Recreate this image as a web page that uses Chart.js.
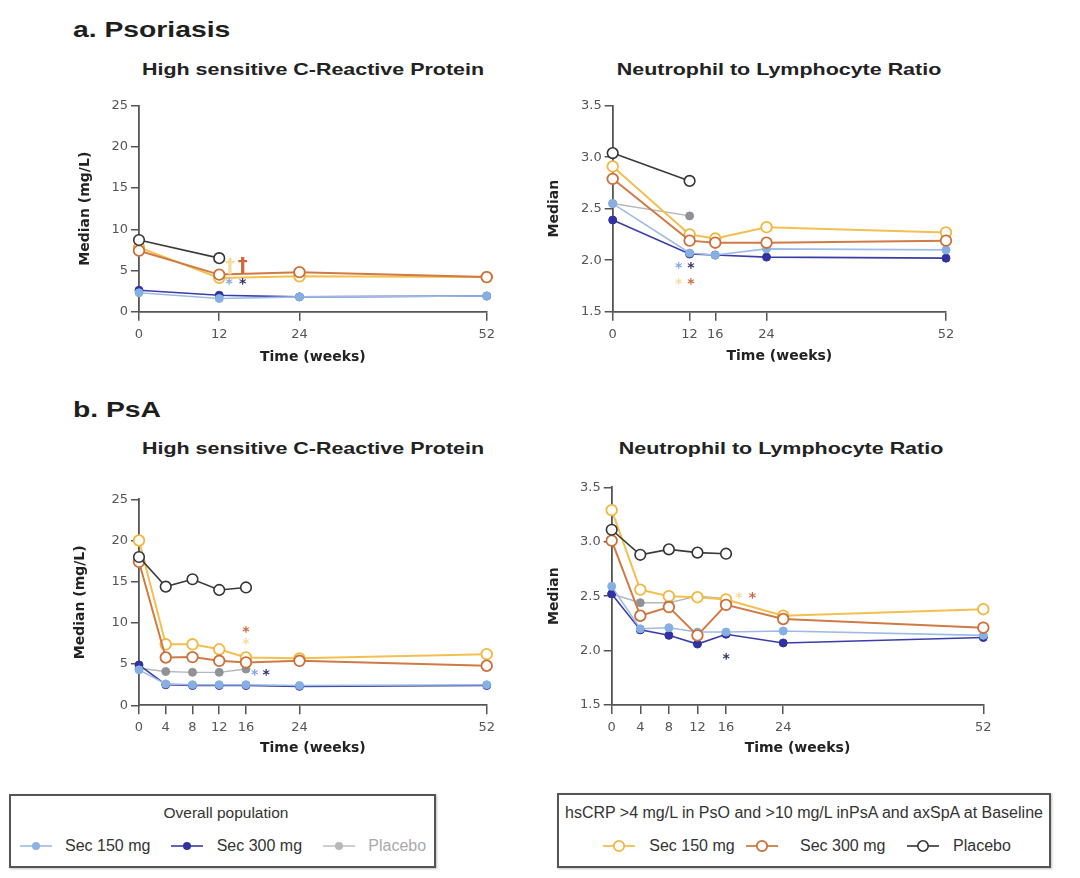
<!DOCTYPE html>
<html><head><meta charset="utf-8">
<script src="https://cdn.jsdelivr.net/npm/chart.js@4.4.1/dist/chart.umd.min.js"></script>
<style>
html,body{margin:0;padding:0;background:#fff;}
body{width:1080px;height:878px;position:relative;overflow:hidden;font-family:"Liberation Sans",Arial,sans-serif;}
.abs{position:absolute;white-space:nowrap;}
.h1{font-weight:bold;font-size:22px;line-height:22px;color:#1e1e1e;transform:scaleX(1.286);transform-origin:left center;}
.h2{font-weight:bold;font-size:16.5px;line-height:16.5px;color:#222;text-align:center;width:400px;transform:scaleX(1.3);transform-origin:center center;}
canvas{position:absolute;}
.lbox{position:absolute;border:2px solid #555;box-sizing:border-box;box-shadow:1px 1px 2px rgba(0,0,0,.25);}
.lt{position:absolute;white-space:nowrap;font-size:16px;line-height:16px;color:#333;}
svg.ic{position:absolute;width:32px;height:14px;overflow:visible;}
</style>
</head><body>

<div class="abs h1" style="left:72.7px;top:18.7px;">a. Psoriasis</div>
<div class="abs h1" style="left:73.3px;top:398.7px;">b. PsA</div>
<div class="abs h2" style="left:112.5px;top:61px;">High sensitive C-Reactive Protein</div>
<div class="abs h2" style="left:578.5px;top:61px;">Neutrophil to Lymphocyte Ratio</div>
<div class="abs h2" style="left:112.5px;top:440.3px;">High sensitive C-Reactive Protein</div>
<div class="abs h2" style="left:581px;top:440.3px;">Neutrophil to Lymphocyte Ratio</div>

<div class="lbox" style="left:9.3px;top:794.3px;width:426.4px;height:73.4px;"></div>
<div class="lt" style="left:0;width:452px;text-align:center;top:805px;font-size:15.5px;">Overall population</div>
<svg class="ic" style="left:20px;top:839px;"><line x1="0" y1="7" x2="32" y2="7" stroke="#9dbbe6" stroke-width="1.6"/><circle cx="16" cy="7" r="4" fill="#8db3e6"/></svg>
<div class="lt" style="left:65px;top:838.2px;">Sec 150 mg</div>
<svg class="ic" style="left:171px;top:839px;"><line x1="0" y1="7" x2="32" y2="7" stroke="#3a3da8" stroke-width="1.6"/><circle cx="16" cy="7" r="4" fill="#2f32a0"/></svg>
<div class="lt" style="left:216.7px;top:838.2px;">Sec 300 mg</div>
<svg class="ic" style="left:322.7px;top:839px;"><line x1="0" y1="7" x2="32" y2="7" stroke="#c4c4c4" stroke-width="1.6"/><circle cx="16" cy="7" r="4" fill="#b8b8b8"/></svg>
<div class="lt" style="left:368.3px;top:838.2px;color:#aaa;">Placebo</div>

<div class="lbox" style="left:557.3px;top:793.3px;width:493.7px;height:75px;"></div>
<div class="lt" style="left:565px;width:477px;text-align:center;top:805px;">hsCRP &gt;4 mg/L in PsO and &gt;10 mg/L inPsA and axSpA at Baseline</div>
<svg class="ic" style="left:603px;top:839px;"><line x1="0" y1="7" x2="32" y2="7" stroke="#f3c050" stroke-width="1.8"/><circle cx="16" cy="7" r="5.2" fill="#fff" stroke="#f0b840" stroke-width="1.8"/></svg>
<div class="lt" style="left:649.3px;top:838.2px;">Sec 150 mg</div>
<svg class="ic" style="left:745.7px;top:839px;"><line x1="0" y1="7" x2="32" y2="7" stroke="#d07a45" stroke-width="1.8"/><circle cx="16" cy="7" r="5.2" fill="#fff" stroke="#cc6f3a" stroke-width="1.8"/></svg>
<div class="lt" style="left:800px;top:838.2px;">Sec 300 mg</div>
<svg class="ic" style="left:906.7px;top:839px;"><line x1="0" y1="7" x2="32" y2="7" stroke="#333" stroke-width="1.6"/><circle cx="16" cy="7" r="5.2" fill="#fff" stroke="#333" stroke-width="1.6"/></svg>
<div class="lt" style="left:953px;top:838.2px;">Placebo</div>

<script>
// ---------- DATA ----------
// time points (weeks)
const weeksPsoCrp = [0, 12, 24, 52];
const weeksPsoNlr = [0, 12, 16, 24, 52];
const weeksPsa    = [0, 4, 8, 12, 16, 24, 52];

// x-axis tick labels
const ticksPsoCrp = [0, 12, 24, 52];
const ticksPsoNlr = [0, 12, 16, 24, 52];
const ticksPsa    = [0, 4, 8, 12, 16, 24, 52];

// a. Psoriasis – hsCRP median (mg/L)
const psoCrpSec150   = [2.3, 1.6, 1.8, 1.9];
const psoCrpSec300   = [2.6, 2.0, 1.8, 1.9];
const psoCrpHiSec150 = [7.8, 4.1, 4.3, 4.2];
const psoCrpHiSec300 = [7.4, 4.5, 4.8, 4.2];
const psoCrpHiPbo    = [8.7, 6.5];

// a. Psoriasis – NLR median
const psoNlrSec150   = [2.55, 2.07, 2.05, 2.11, 2.10];
const psoNlrSec300   = [2.39, 2.06, 2.05, 2.03, 2.02];
const psoNlrPbo      = [2.55, 2.43];
const psoNlrHiSec150 = [2.91, 2.25, 2.21, 2.32, 2.27];
const psoNlrHiSec300 = [2.79, 2.19, 2.17, 2.17, 2.19];
const psoNlrHiPbo    = [3.04, 2.77];

// b. PsA – hsCRP median (mg/L)
const psaCrpSec150   = [4.3, 2.6, 2.5, 2.5, 2.5, 2.4, 2.5];
const psaCrpSec300   = [4.9, 2.5, 2.4, 2.4, 2.4, 2.3, 2.4];
const psaCrpPbo      = [4.5, 4.1, 4.0, 4.0, 4.4];
const psaCrpHiSec150 = [20.0, 7.4, 7.4, 6.8, 5.8, 5.7, 6.2];
const psaCrpHiSec300 = [17.4, 5.8, 5.85, 5.4, 5.2, 5.4, 4.8];
const psaCrpHiPbo    = [18.0, 14.4, 15.3, 14.0, 14.3];

// b. PsA – NLR median
const psaNlrSec150   = [2.59, 2.20, 2.21, 2.17, 2.17, 2.18, 2.14];
const psaNlrSec300   = [2.52, 2.19, 2.14, 2.06, 2.15, 2.07, 2.12];
const psaNlrPbo      = [2.52, 2.44, 2.44, 2.50, 2.48];
const psaNlrHiSec150 = [3.29, 2.56, 2.50, 2.49, 2.47, 2.32, 2.38];
const psaNlrHiSec300 = [3.01, 2.32, 2.40, 2.14, 2.42, 2.29, 2.21];
const psaNlrHiPbo    = [3.11, 2.88, 2.93, 2.90, 2.89];

// significance marks: [week, value, symbol, series]
const psoCrpMarks = [[13.5, 3.7, '*', 's150'], [15.5, 3.7, '*', 's300'], [13.6, 5.5, '†', 'h150'], [15.5, 5.6, '†', 'h300']];
const psoNlrMarks = [[10.3, 1.95, '*', 's150'], [12.2, 1.95, '*', 's300'], [10.3, 1.79, '*', 'h150'], [12.2, 1.79, '*', 'h300']];
const psaCrpMarks = [[16, 9.2, '*', 'h300'], [16, 7.7, '*', 'h150'], [17.3, 4.0, '*', 's150'], [19.0, 4.0, '*', 's300']];
const psaNlrMarks = [[17.8, 2.51, '*', 'h150'], [19.7, 2.51, '*', 'h300'], [16, 1.95, '*', 's300']];

// ---------- STYLE ----------
const STYLE = {
  s150: {line:'#9dbbe6', point:'#86afe4', r:4,   lw:1.6, pbw:1,   open:false, order:3, mark:'#7fa6e0'},
  s300: {line:'#3a3da8', point:'#2f32a0', r:4,   lw:1.6, pbw:1,   open:false, order:4, mark:'#2c2f70'},
  pbo:  {line:'#b4b6ba', point:'#8f9398', r:4,   lw:1.4, pbw:1,   open:false, order:5, mark:'#8f9398'},
  h150: {line:'#f3c050', point:'#f0b840', r:5.3, lw:2,   pbw:1.8, open:true,  order:2, mark:'#f6dc9c'},
  h300: {line:'#d07a45', point:'#cc6f3a', r:5.3, lw:2,   pbw:1.8, open:true,  order:1, mark:'#d0663a'},
  hpbo: {line:'#3a3a3a', point:'#333333', r:5.3, lw:1.6, pbw:1.6, open:true,  order:0, mark:'#333'}
};

function ds(weeks, vals, key) {
  const st = STYLE[key];
  return {
    data: vals.map((v, i) => ({x: weeks[i], y: v})),
    borderColor: st.line, backgroundColor: st.open ? '#fff' : st.point,
    pointBackgroundColor: st.open ? '#fff' : st.point, pointBorderColor: st.point,
    pointRadius: st.r, pointBorderWidth: st.pbw, borderWidth: st.lw,
    tension: 0, clip: false, order: st.order, fill: false
  };
}

const marksPlugin = {
  id: 'marks',
  afterDatasetsDraw(chart, args, opts) {
    const ctx = chart.ctx, xs = chart.scales.x, ys = chart.scales.y;
    ctx.save();
    ctx.textAlign = 'center';
    ctx.textBaseline = 'middle';
    (opts.items || []).forEach(([w, v, sym, key]) => {
      const px = xs.getPixelForValue(w), py = ys.getPixelForValue(v);
      ctx.fillStyle = STYLE[key].mark;
      if (sym === '*') { ctx.font = 'bold 14px "DejaVu Sans"'; ctx.fillText(sym, px, py + 3); }
      else { ctx.font = 'bold 20px "DejaVu Sans"'; ctx.fillText(sym, px, py); }
    });
    ctx.restore();
  }
};

function makeChart(rect, yw, xh, xMax, xTicks, yMin, yMax, yStep, yTitle, fmt, datasets, marks) {
  const padTop = 12, padRight = 20;
  const cl = Math.floor(rect.L - yw);
  const ywx = rect.L - cl;
  const ct = Math.floor(rect.T - padTop);
  const pt = rect.T - ct;
  const w = Math.ceil(rect.R + padRight - cl);
  const pr = cl + w - rect.R;
  const h = Math.ceil(rect.B + xh - ct) + 1;
  const pb = ct + h - (rect.B + xh);
  const cv = document.createElement('canvas');
  cv.width = w; cv.height = h;
  cv.style.left = cl + 'px'; cv.style.top = ct + 'px';
  cv.style.width = w + 'px'; cv.style.height = h + 'px';
  document.body.appendChild(cv);
  const axisCommon = {
    grid: {display: true, drawOnChartArea: false, drawTicks: true, color: '#555', lineWidth: 1.5},
    border: {display: true, color: '#555', width: 1.8}
  };
  new Chart(cv, {
    type: 'line',
    data: {datasets},
    options: {
      responsive: false, animation: false,
      layout: {padding: {left: 0, top: pt, right: pr, bottom: pb}},
      plugins: {legend: {display: false}, tooltip: {enabled: false}, marks: {items: marks}},
      scales: {
        x: Object.assign({}, axisCommon, {
          type: 'linear', min: 0, max: xMax,
          grid: Object.assign({}, axisCommon.grid, {tickLength: 9}),
          afterBuildTicks: s => { s.ticks = xTicks.map(v => ({value: v})); },
          afterFit: s => { s.height = xh; },
          ticks: {color: '#555', font: {family: 'DejaVu Sans', size: 13}, padding: 6, maxRotation: 0, autoSkip: false},
          title: {display: true, text: 'Time (weeks)', color: '#222', font: {family: 'DejaVu Sans', size: 14, weight: 'bold'}, padding: {top: 0, bottom: 0}}
        }),
        y: Object.assign({}, axisCommon, {
          type: 'linear', min: yMin, max: yMax,
          grid: Object.assign({}, axisCommon.grid, {tickLength: 8}),
          afterFit: s => { s.width = ywx; },
          ticks: {stepSize: yStep, color: '#555', font: {family: 'DejaVu Sans', size: 13}, padding: 3, callback: fmt},
          title: {display: true, text: yTitle, color: '#222', font: {family: 'DejaVu Sans', size: 14, weight: 'bold'}, padding: {top: 0, bottom: 0}}
        })
      }
    },
    plugins: [marksPlugin]
  });
}

const fmtInt = v => String(Math.round(v));
const fmt1 = v => v.toFixed(1);

makeChart({L:139, T:105.7, R:486.7, B:311.7}, 62, 54, 52, ticksPsoCrp, 0, 25, 5, 'Median (mg/L)', fmtInt, [
  ds(weeksPsoCrp, psoCrpSec150, 's150'),
  ds(weeksPsoCrp, psoCrpSec300, 's300'),
  ds(weeksPsoCrp, psoCrpHiSec150, 'h150'),
  ds(weeksPsoCrp, psoCrpHiSec300, 'h300'),
  ds(weeksPsoCrp, psoCrpHiPbo, 'hpbo')
], psoCrpMarks);

makeChart({L:612.7, T:105.7, R:946, B:311.7}, 66, 53.4, 52, ticksPsoNlr, 1.5, 3.5, 0.5, 'Median', fmt1, [
  ds(weeksPsoNlr, psoNlrSec150, 's150'),
  ds(weeksPsoNlr, psoNlrSec300, 's300'),
  ds(weeksPsoNlr, psoNlrPbo, 'pbo'),
  ds(weeksPsoNlr, psoNlrHiSec150, 'h150'),
  ds(weeksPsoNlr, psoNlrHiSec300, 'h300'),
  ds(weeksPsoNlr, psoNlrHiPbo, 'hpbo')
], psoNlrMarks);

makeChart({L:139, T:499.3, R:486.7, B:705.3}, 66.4, 51, 52, ticksPsa, 0, 25, 5, 'Median (mg/L)', fmtInt, [
  ds(weeksPsa, psaCrpSec150, 's150'),
  ds(weeksPsa, psaCrpSec300, 's300'),
  ds(weeksPsa, psaCrpPbo, 'pbo'),
  ds(weeksPsa, psaCrpHiSec150, 'h150'),
  ds(weeksPsa, psaCrpHiSec300, 'h300'),
  ds(weeksPsa, psaCrpHiPbo, 'hpbo')
], psaCrpMarks);

makeChart({L:611.7, T:487.3, R:983.3, B:705}, 65, 51.4, 52, ticksPsa, 1.5, 3.5, 0.5, 'Median', fmt1, [
  ds(weeksPsa, psaNlrSec150, 's150'),
  ds(weeksPsa, psaNlrSec300, 's300'),
  ds(weeksPsa, psaNlrPbo, 'pbo'),
  ds(weeksPsa, psaNlrHiSec150, 'h150'),
  ds(weeksPsa, psaNlrHiSec300, 'h300'),
  ds(weeksPsa, psaNlrHiPbo, 'hpbo')
], psaNlrMarks);
</script>
</body></html>
